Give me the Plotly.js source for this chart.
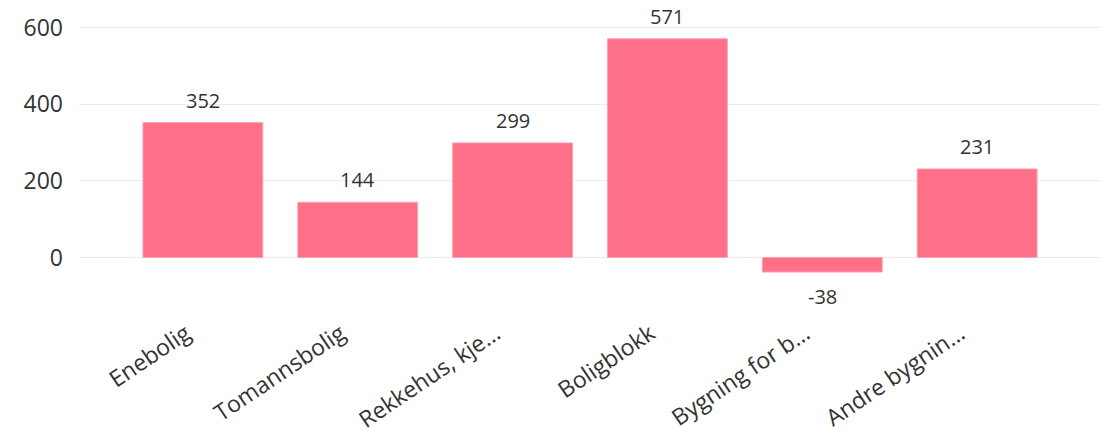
<!DOCTYPE html>
<html>
<head>
<meta charset="utf-8">
<script src="https://cdn.plot.ly/plotly-3.0.1.min.js"></script>
<style>html,body{margin:0;padding:0;background:#fff;}#chart{width:1114px;height:431px;}</style>
</head>
<body>
<div id="chart"></div>
<script>
const categories = ["Enebolig", "Tomannsbolig", "Rekkehus, kje…", "Boligblokk", "Bygning for b…", "Andre bygnin…"];
const values = [352, 144, 299, 571, -38, 231];
const yTickValues = [0, 200, 400, 600];

const trace = {
  type: 'bar',
  x: categories,
  y: values,
  marker: {color: '#FD7088', line: {color: '#FDA0B0', width: 1}},
  hoverinfo: 'x+y'
};

const annotations = categories.map((c, i) => ({
  x: c, y: values[i], text: String(values[i]),
  showarrow: false,
  xanchor: 'center',
  yanchor: values[i] >= 0 ? 'bottom' : 'top',
  yshift: values[i] >= 0 ? 7 : -9,
  font: {family: 'Open Sans, sans-serif', size: 20, color: '#333333'}
}));

const layout = {
  width: 1114, height: 431,
  margin: {l: 79, r: 13, t: 10, b: 136},
  paper_bgcolor: '#ffffff', plot_bgcolor: '#ffffff',
  showlegend: false,
  bargap: 0.226,
  font: {family: 'Open Sans, sans-serif', color: '#333333'},
  xaxis: {
    type: 'category',
    range: [-0.8, 5.8],
    tickangle: -34,
    tickfont: {size: 23, color: '#333333'},
    showgrid: false, zeroline: false, showline: false, ticks: '',
    ticklabelstandoff: 20,
    ticklabelshift: -17
  },
  yaxis: {
    range: [-98, 646],
    tickvals: yTickValues,
    ticktext: yTickValues.map(String),
    tickfont: {size: 23, color: '#333333'},
    gridcolor: '#EAECF0', gridwidth: 1,
    zeroline: true, zerolinecolor: '#EAECF0', zerolinewidth: 1,
    showline: false, ticks: '',
    ticklabelstandoff: 15
  },
  annotations: annotations
};

Plotly.newPlot('chart', [trace], layout, {displayModeBar: false, staticPlot: true});
</script>
</body>
</html>
